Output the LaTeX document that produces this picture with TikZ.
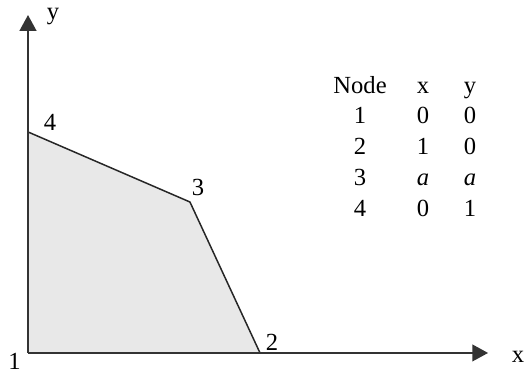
\documentclass[tikz,border=0pt]{standalone}
\usepackage{fontspec}
\setmainfont{Liberation Serif}
\usetikzlibrary{arrows.meta}

\begin{document}
\begin{tikzpicture}[
    x=4.64cm, y=4.42cm,
    every node/.style={font=\fontsize{14}{17}\selectfont, inner sep=0pt},
    axis/.style={line width=1.1pt, draw=black!80, -{Triangle[length=9pt, width=9.5pt]}},
    region/.style={fill=black!9},
    edge/.style={draw=black!85, line width=0.85pt, line join=round},
    cell/.style={anchor=base}
]
\useasboundingbox (-0.1207,-0.095) rectangle (2.142,1.597);

% Corner points of the region
\coordinate (N1) at (0,0);
\coordinate (N2) at (1,0);
\coordinate (N3) at (0.698,0.683);
\coordinate (N4) at (0,1);

% Shaded region and its slanted sides
\path[region] (N1) -- (N2) -- (N3) -- (N4) -- cycle;
\draw[edge] (N4) -- (N3) -- (N2);

% Axes
\coordinate (xend) at (1.983,0);
\coordinate (yend) at (0,1.529);
\draw[axis] (N1) -- (xend);
\draw[axis] (N1) -- (yend);
\node (xlab) at (2.112,-0.018) {x};
\node (ylab) at (0.108,1.520) {y};

% Vertex numbers
\node (L1) at (-0.058,-0.036) {1};
\node (L2) at (1.052,0.050) {2};
\node (L3) at (0.733,0.747) {3};
\node (L4) at (0.095,1.045) {4};

% Table of coordinates
\node[cell] (head) at (1.431,1.176) {Node};
\node[cell] (hx) at (1.703,1.176) {x};
\node[cell] (hy) at (1.905,1.176) {y};
\foreach \n/\a/\b [count=\i] in {1/0/0, 2/1/0, 3/\textit{a}/\textit{a}, 4/0/1} {
    \node[cell] (r\i) at (1.431,{1.176-0.14*\i}) {\n};
    \node[cell] (rx\i) at (1.703,{1.176-0.14*\i}) {\a};
    \node[cell] (ry\i) at (1.905,{1.176-0.14*\i}) {\b};
}

\end{tikzpicture}
\end{document}
